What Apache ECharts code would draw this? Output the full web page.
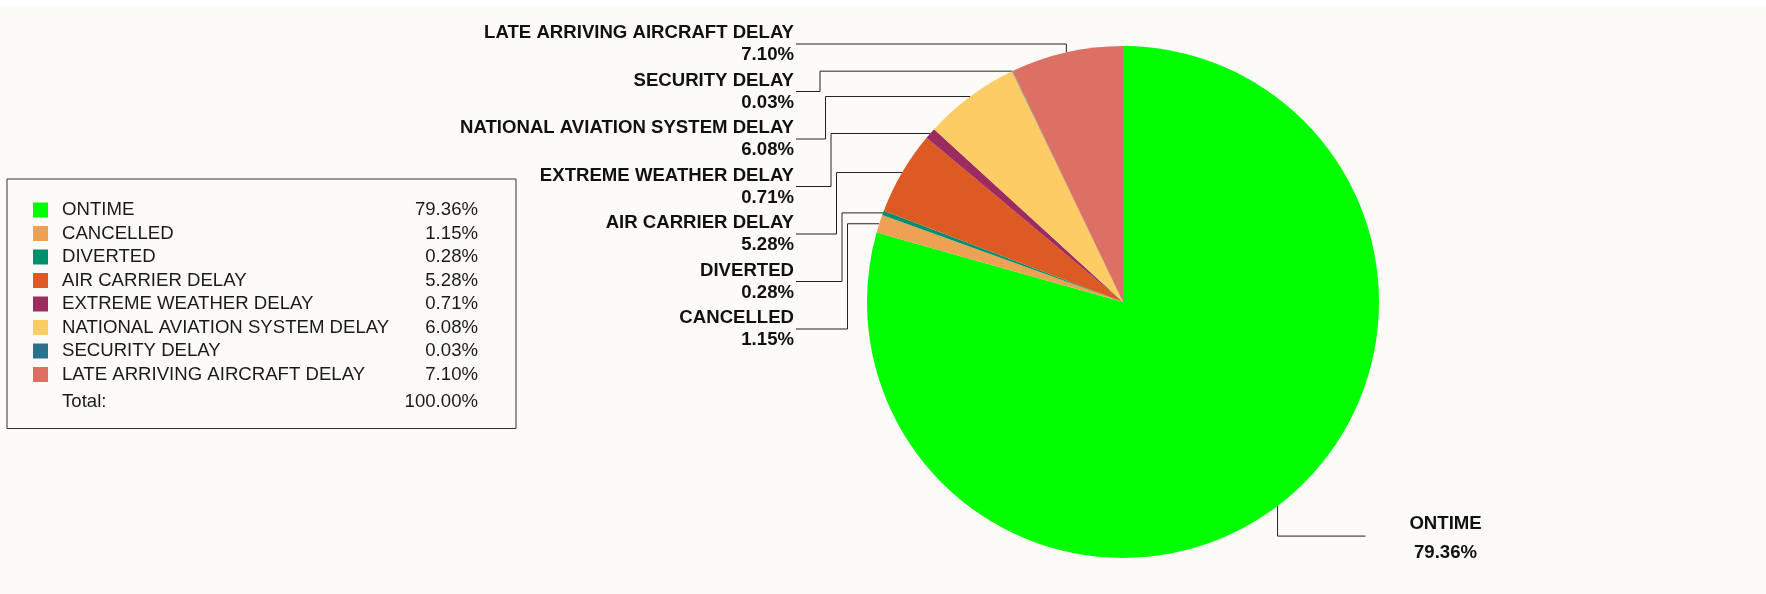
<!DOCTYPE html>
<html>
<head>
<meta charset="utf-8">
<script src="https://cdn.jsdelivr.net/npm/echarts@6/dist/echarts.min.js"></script>
<style>
  html, body { margin: 0; padding: 0; background: #ffffff; }
  #chart { width: 1766px; height: 588px; margin-top: 6px; }
</style>
</head>
<body>
<div id="chart"></div>
<script>
// flight status shares (%)
const categories = [
  'ONTIME',
  'CANCELLED',
  'DIVERTED',
  'AIR CARRIER DELAY',
  'EXTREME WEATHER DELAY',
  'NATIONAL AVIATION SYSTEM DELAY',
  'SECURITY DELAY',
  'LATE ARRIVING AIRCRAFT DELAY'
];
const shares = [79.36, 1.15, 0.28, 5.28, 0.71, 6.08, 0.03, 7.10];
const colors = ['#00ff00', '#eea155', '#008f6e', '#dd5a22', '#9c2b60', '#fdcc64', '#2a718c', '#dc7065'];
const totalShare = 100.00;

// pie geometry
const CX = 1123, CY = 296, R = 256;
// left label column
const LABEL_RIGHT = 794, LABEL_TOP = 38, LABEL_STEP = 47.5;
const ELBOW_X0 = 820, ELBOW_STEP = 5.5;
const FONT = '"Liberation Sans", Arial, sans-serif';
const FONT_SIZE = 18.6;

const fmt = v => v.toFixed(2) + '%';

// anchor point of each slice on the rim (clockwise from 12 o'clock)
const sum = shares.reduce((a, b) => a + b, 0);
let acc = 0;
const anchors = shares.map(v => {
  const a = (acc + v / 2) / sum * Math.PI * 2;
  acc += v;
  return [CX + R * Math.sin(a), CY - R * Math.cos(a)];
});
const leftOrder = shares.map((v, i) => i)
  .filter(i => anchors[i][0] < CX)
  .sort((a, b) => anchors[a][1] - anchors[b][1]);

const chart = echarts.init(document.getElementById('chart'));

const option = {
  backgroundColor: '#fcfbf7',
  animation: false,
  legend: {
    orient: 'vertical',
    left: 7,
    top: 173,
    padding: [21, 38, 44, 26],
    borderColor: '#333',
    borderWidth: 1,
    itemWidth: 15,
    itemHeight: 15,
    itemGap: 3.5,
    icon: 'rect',
    selectedMode: false,
    data: categories,
    formatter: function (name) {
      return '{n|' + name + '}{v|' + fmt(shares[categories.indexOf(name)]) + '}';
    },
    textStyle: {
      fontFamily: FONT,
      fontSize: FONT_SIZE,
      lineHeight: 20,
      color: '#1a1a1a',
      rich: {
        n: { width: 336, padding: [0, 0, 0, 9], fontFamily: FONT, fontSize: FONT_SIZE, lineHeight: 20, color: '#1a1a1a' },
        v: { width: 80, align: 'right', fontFamily: FONT, fontSize: FONT_SIZE, lineHeight: 20, color: '#1a1a1a' }
      }
    }
  },
  graphic: [
    {
      type: 'text',
      left: 62,
      top: 386,
      style: { text: 'Total:', font: FONT_SIZE + 'px ' + FONT, fill: '#1a1a1a' }
    },
    {
      type: 'text',
      right: 1766 - 478,
      top: 386,
      style: { text: fmt(totalShare), font: FONT_SIZE + 'px ' + FONT, fill: '#1a1a1a' }
    }
  ],
  series: [{
    type: 'pie',
    center: [CX, CY],
    radius: R,
    startAngle: 90,
    clockwise: true,
    avoidLabelOverlap: false,
    minShowLabelAngle: 0,
    color: colors,
    data: categories.map((c, i) => {
      const item = { name: c, value: shares[i] };
      // the right-hand label is spaced a bit wider
      if (anchors[i][0] >= CX) item.label = { lineHeight: 29 };
      return item;
    }),
    label: {
      show: true,
      position: 'outside',
      formatter: p => p.name + '\n' + fmt(p.value),
      fontFamily: FONT,
      fontWeight: 'bold',
      fontSize: FONT_SIZE,
      lineHeight: 22,
      color: '#111'
    },
    labelLine: {
      show: true,
      smooth: false,
      length: 10,
      length2: 10,
      lineStyle: { color: '#222', width: 1 }
    },
    itemStyle: { borderWidth: 0 },
    emphasis: { disabled: true },
    labelLayout: function (p) {
      const i = p.dataIndex;
      const pt = anchors[i];
      const k = leftOrder.indexOf(i);
      if (k >= 0) {
        const ly = LABEL_TOP + k * LABEL_STEP;
        const ex = ly < pt[1] ? pt[0] : ELBOW_X0 + ELBOW_STEP * (k - 1);
        return {
          x: LABEL_RIGHT,
          y: ly,
          align: 'right',
          verticalAlign: 'middle',
          labelLinePoints: [pt, [ex, pt[1]], [ex, ly], [LABEL_RIGHT + 2, ly]]
        };
      }
      const ly = pt[1] + 30;
      return {
        x: pt[0] + 168,
        y: ly + 2,
        align: 'center',
        verticalAlign: 'middle',
        labelLinePoints: [pt, [pt[0], ly], [pt[0] + 88, ly]]
      };
    }
  }]
};

chart.setOption(option);
window.addEventListener('resize', () => chart.resize());
</script>
</body>
</html>
